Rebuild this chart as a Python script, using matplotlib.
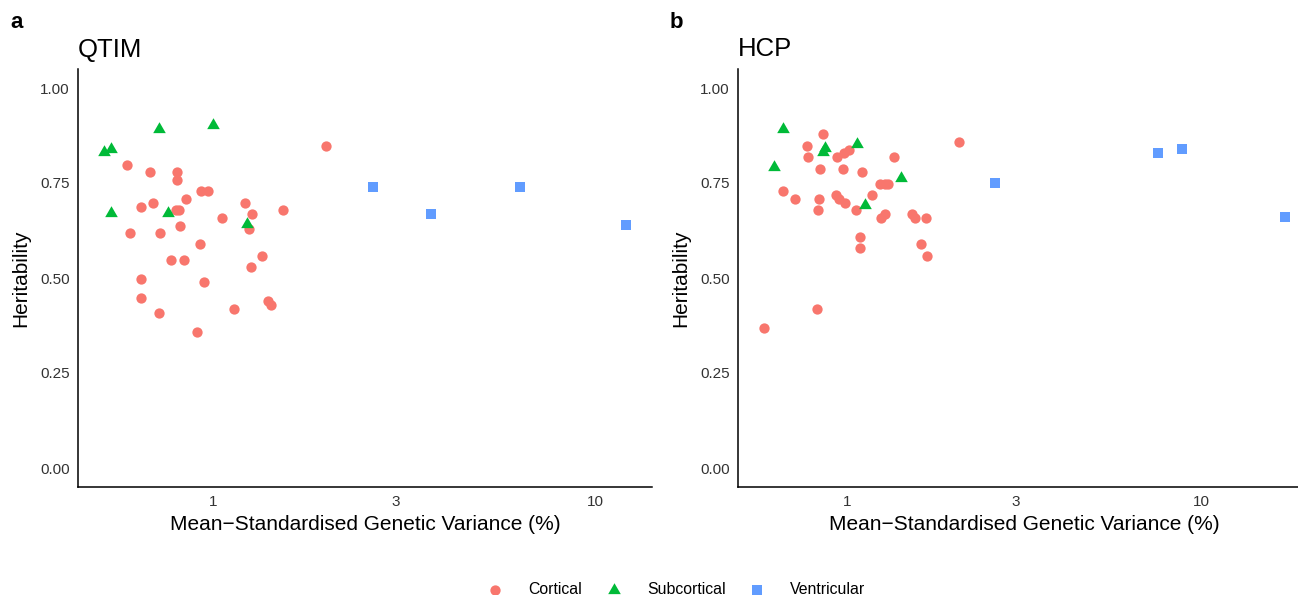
import matplotlib.pyplot as plt
import numpy as np

plt.rcParams['font.family'] = ['Liberation Sans', 'DejaVu Sans']

# colours (ggplot default hue palette)
c_cort = '#F8766D'
c_sub = '#00BA38'
c_vent = '#619CFF'

# QTIM
qtim_cort_x = [1.976, 0.593, 0.682, 0.803, 0.805, 0.928, 0.970, 0.846, 0.697, 0.648,
               1.211, 1.517, 1.263, 1.056, 0.798, 0.814, 0.818, 1.240, 0.606, 0.725,
               0.923, 1.342, 0.774, 0.838, 1.253, 0.647, 0.945, 0.646, 1.394, 1.417,
               1.131, 0.723, 0.906]
qtim_cort_y = [0.848, 0.797, 0.779, 0.780, 0.758, 0.730, 0.730, 0.708, 0.697, 0.687,
               0.697, 0.679, 0.669, 0.659, 0.679, 0.679, 0.637, 0.629, 0.618, 0.618,
               0.589, 0.558, 0.547, 0.547, 0.529, 0.497, 0.489, 0.447, 0.440, 0.429,
               0.418, 0.408, 0.358]
qtim_sub_x = [0.721, 1.000, 0.518, 0.540, 0.540, 0.763, 1.226]
qtim_sub_y = [0.892, 0.903, 0.832, 0.840, 0.671, 0.671, 0.641]
qtim_vent_x = [2.62, 3.72, 6.33, 12.0]
qtim_vent_y = [0.739, 0.668, 0.739, 0.639]

# HCP
hcp_cort_x = [0.858, 0.771, 0.776, 0.935, 0.983, 1.011, 1.357, 0.841, 0.974, 1.104,
              1.241, 1.277, 1.308, 0.659, 0.714, 0.931, 0.951, 0.985, 1.175, 0.836,
              0.827, 1.058, 1.250, 1.285, 1.524, 1.557, 1.673, 1.086, 1.086, 1.623,
              1.688, 0.822, 0.584, 2.07]
hcp_cort_y = [0.879, 0.848, 0.818, 0.818, 0.830, 0.837, 0.818, 0.787, 0.787, 0.780,
              0.748, 0.748, 0.748, 0.730, 0.708, 0.719, 0.709, 0.698, 0.719, 0.709,
              0.679, 0.679, 0.657, 0.668, 0.668, 0.657, 0.657, 0.608, 0.579, 0.589,
              0.558, 0.418, 0.368, 0.858]
hcp_sub_x = [0.662, 0.622, 0.869, 0.854, 1.069, 1.419, 1.124]
hcp_sub_y = [0.891, 0.791, 0.841, 0.831, 0.853, 0.762, 0.691]
hcp_vent_x = [2.62, 7.53, 8.81, 17.2]
hcp_vent_y = [0.749, 0.828, 0.839, 0.660]

tri = [(-1, -0.577), (1, -0.577), (0, 1.155)]

fig = plt.figure(figsize=(12.98, 5.95), dpi=100)
ax_a = fig.add_axes([78/1298, 108/595, 574/1298, 418/595])
# panel b runs slightly past the right edge of the canvas, as in the original
ax_b = fig.add_axes([738/1298, 108/595, 573/1298, 418/595])

panels = [
    (ax_a, 'a', 'QTIM', qtim_cort_x, qtim_cort_y, qtim_sub_x, qtim_sub_y, qtim_vent_x, qtim_vent_y),
    (ax_b, 'b', 'HCP', hcp_cort_x, hcp_cort_y, hcp_sub_x, hcp_sub_y, hcp_vent_x, hcp_vent_y),
]

for ax, tag, title, cx, cy, sx, sy, vx, vy in panels:
    ax.scatter(cx, cy, s=55, c=c_cort, marker='o', linewidths=0, label='Cortical')
    ax.scatter(sx, sy, s=110, c=c_sub, marker=tri, linewidths=0, label='Subcortical')
    ax.scatter(vx, vy, s=62, c=c_vent, marker='s', linewidths=0, label='Ventricular')

    ax.set_xscale('log')
    allx = np.log10(np.concatenate([cx, sx, vx]))
    span = allx.max() - allx.min()
    ax.set_xlim(10 ** (allx.min() - 0.05 * span), 10 ** (allx.max() + 0.05 * span))
    ax.set_ylim(-0.05, 1.05)
    ax.set_xticks([1, 3, 10])
    ax.set_xticklabels(['1', '3', '10'])
    ax.xaxis.set_minor_locator(plt.NullLocator())
    ax.set_yticks([0, 0.25, 0.5, 0.75, 1.0])
    ax.set_yticklabels(['0.00', '0.25', '0.50', '0.75', '1.00'])
    ax.tick_params(length=0, labelsize=11, colors='#333333', pad=6)
    ax.tick_params(axis='x', pad=6)

    for side in ['top', 'right']:
        ax.spines[side].set_visible(False)
    for side in ['left', 'bottom']:
        ax.spines[side].set_color('black')
        ax.spines[side].set_linewidth(1.1)

    ax.set_xlabel('Mean\u2212Standardised Genetic Variance (%)', fontsize=15, labelpad=4)
    ax.set_ylabel('Heritability', fontsize=15, labelpad=7)
    ax.set_title(title, fontsize=18.5, loc='left', pad=9)

fig.text(10/1298, 1 - 22/595, 'a', fontsize=16, fontweight='bold', va='center')
fig.text(670/1298, 1 - 22/595, 'b', fontsize=16, fontweight='bold', va='center')

handles, labels = ax_a.get_legend_handles_labels()
fig.legend(handles, labels, loc='center', bbox_to_anchor=(0.518, 1 - 590/595), ncol=3,
           frameon=False, fontsize=11.4, handletextpad=1.1, columnspacing=1.0,
           markerscale=1.0)

plt.savefig('out.png', dpi=100)
